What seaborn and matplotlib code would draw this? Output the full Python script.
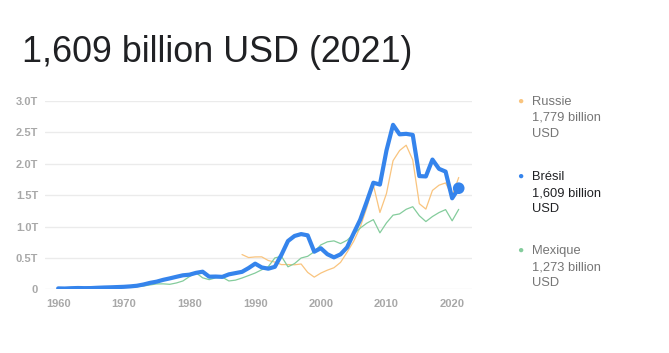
import numpy as np
import pandas as pd
import seaborn as sns
import matplotlib.pyplot as plt

# Données PIB (en milliers de milliards USD)
annees_bresil = list(range(1960, 2022))
pib_bresil = [0.017, 0.015, 0.020, 0.023, 0.021, 0.022, 0.027, 0.031, 0.034, 0.038,
              0.042, 0.049, 0.059, 0.079, 0.105, 0.124, 0.153, 0.176, 0.201, 0.225,
              0.235, 0.264, 0.282, 0.203, 0.205, 0.200, 0.240, 0.260, 0.280, 0.340,
              0.410, 0.350, 0.330, 0.360, 0.550, 0.770, 0.850, 0.880, 0.860, 0.600,
              0.655, 0.560, 0.510, 0.558, 0.669, 0.892, 1.108, 1.397, 1.696, 1.667,
              2.209, 2.616, 2.465, 2.473, 2.456, 1.802, 1.796, 2.064, 1.917, 1.873,
              1.449, 1.609]

annees_russie = list(range(1988, 2022))
pib_russie = [0.555, 0.507, 0.517, 0.518, 0.460, 0.435, 0.395, 0.396, 0.392, 0.405,
              0.271, 0.196, 0.260, 0.307, 0.345, 0.430, 0.591, 0.764, 0.990, 1.300,
              1.661, 1.223, 1.525, 2.046, 2.208, 2.292, 2.059, 1.363, 1.277, 1.574,
              1.657, 1.693, 1.489, 1.779]

annees_mexique = list(range(1960, 2022))
pib_mexique = [0.013, 0.014, 0.015, 0.017, 0.020, 0.022, 0.024, 0.027, 0.029, 0.033,
               0.036, 0.039, 0.045, 0.055, 0.072, 0.088, 0.089, 0.082, 0.103, 0.135,
               0.205, 0.264, 0.185, 0.156, 0.185, 0.195, 0.135, 0.148, 0.182, 0.221,
               0.261, 0.313, 0.363, 0.501, 0.527, 0.360, 0.411, 0.500, 0.527, 0.600,
               0.708, 0.757, 0.772, 0.729, 0.782, 0.878, 0.975, 1.053, 1.110, 0.900,
               1.058, 1.181, 1.201, 1.274, 1.315, 1.172, 1.079, 1.159, 1.222, 1.269,
               1.091, 1.273]

y_ticks = [0, 0.5, 1.0, 1.5, 2.0, 2.5, 3.0]
y_labels = ["0", "0.5T", "1.0T", "1.5T", "2.0T", "2.5T", "3.0T"]
x_ticks = [1960, 1970, 1980, 1990, 2000, 2010, 2020]

legende_noms = ["Russie", "Brésil", "Mexique"]
legende_valeurs = ["1,779 billion", "1,609 billion", "1,273 billion"]

c_russie = '#f9c47e'
c_bresil = '#3584ec'
c_mexique = '#84cc9c'

sns.set_style("white")
plt.rcParams['font.family'] = ['Liberation Sans', 'DejaVu Sans']

fig = plt.figure(figsize=(6.69, 3.53), dpi=100)
ax = fig.add_axes([0.0673, 0.18, 0.638, 0.5348])

sns.lineplot(x=annees_russie, y=pib_russie, ax=ax, color=c_russie, linewidth=0.9)
sns.lineplot(x=annees_mexique, y=pib_mexique, ax=ax, color=c_mexique, linewidth=0.9)
sns.lineplot(x=annees_bresil, y=pib_bresil, ax=ax, color=c_bresil, linewidth=3.0,
             solid_joinstyle='round', solid_capstyle='round')
sns.scatterplot(x=[annees_bresil[-1]], y=[pib_bresil[-1]], ax=ax, color=c_bresil,
                s=70, edgecolor='none', zorder=5)

ax.set_xlim(1958, 2023)
ax.set_ylim(0, 3.0)
ax.set_yticks(y_ticks)
ax.set_yticklabels(y_labels)
ax.set_xticks(x_ticks)
ax.set_xticklabels([str(a) for a in x_ticks])
ax.grid(axis='y', color='#ebebeb', linewidth=1)
ax.set_axisbelow(True)
for s in ax.spines.values():
    s.set_visible(False)
ax.tick_params(axis='y', length=0, pad=5, labelsize=8, labelcolor='#a8a8a8')
ax.tick_params(axis='x', length=4, width=0.8, color='#dddddd', pad=3,
               labelsize=8, labelcolor='#a8a8a8')
for lab in ax.get_xticklabels() + ax.get_yticklabels():
    lab.set_fontweight('bold')
ax.set_xlabel('')
ax.set_ylabel('')

fig.text(22 / 669, 1 - 52 / 353, "1,609 billion USD (2021)", fontsize=25.8,
         color='#202124', va='center', ha='left')

# Légende à droite
couleurs = [c_russie, c_bresil, c_mexique]
couleurs_txt = ['#757575', '#202124', '#757575']
y_points = [101, 176, 250]
for nom, val, c, ct, yp in zip(legende_noms, legende_valeurs, couleurs, couleurs_txt, y_points):
    fig.text(520 / 669, 1 - yp / 353, u"\u25CF", fontsize=7.5, color=c,
             ha='center', va='center')
    for k, ligne in enumerate([nom, val, "USD"]):
        fig.text(532 / 669, 1 - (yp + 1 + 16 * k) / 353, ligne, fontsize=9.3,
                 color=ct, ha='left', va='center')

fig.savefig('out.png', dpi=100)
